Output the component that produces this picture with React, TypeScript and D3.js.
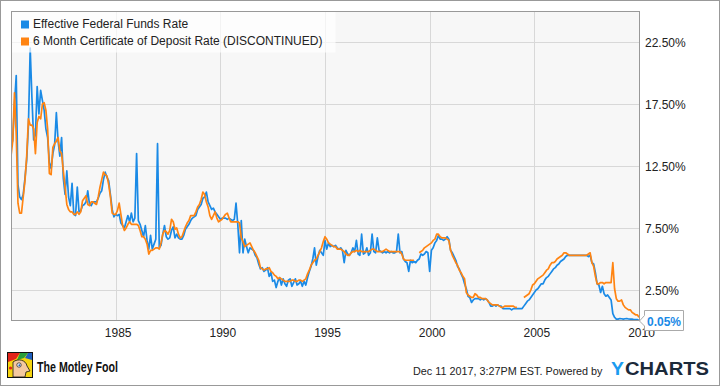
import React from "react";
import * as d3 from "d3";

// monthly values, Jan 1980 .. Jan 2010 (percent)
const START_YEAR = 1980;

const fedFundsRate: number[] = [
  14.0, 14.6, 17.5, 19.8, 11.0, 10.0, 9.8, 10.2, 11.5, 13.0, 15.8, 22.0, // 1980
  18.0, 14.6, 15.0, 18.9, 16.7, 18.6, 17.8, 17.0, 15.5, 14.8, 12.8, 12.3, // 1981
  13.5, 14.2, 16.8, 14.5, 13.3, 14.8, 11.5, 10.2, 12.1, 10.0, 9.3, 11.1, // 1982
  8.6, 8.5, 10.8, 8.8, 8.9, 9.3, 9.4, 9.6, 10.5, 9.4, 9.3, 9.6, // 1983
  9.6, 9.6, 9.9, 10.3, 10.5, 11.4, 12.0, 11.6, 11.3, 10.2, 9.0, 8.4, // 1984
  8.6, 8.5, 8.6, 7.9, 7.7, 7.5, 8.0, 8.5, 8.0, 8.7, 8.0, 8.3, // 1985
  13.5, 8.1, 7.8, 7.3, 6.8, 7.7, 6.5, 5.8, 6.9, 5.8, 6.2, 6.6, // 1986
  14.3, 5.9, 6.1, 7.0, 7.7, 6.8, 6.6, 6.7, 7.3, 7.6, 6.7, 7.0, // 1987
  6.7, 6.6, 6.6, 6.9, 7.4, 7.6, 7.8, 8.1, 8.3, 8.4, 8.5, 9.0, // 1988
  9.2, 9.4, 9.9, 10.0, 10.4, 9.6, 9.3, 9.0, 9.1, 8.8, 8.6, 8.4, // 1989
  8.2, 8.3, 8.3, 8.3, 8.2, 8.3, 8.2, 8.1, 8.2, 9.5, 7.8, 5.5, // 1990
  8.1, 5.5, 6.6, 6.0, 5.5, 5.9, 5.8, 5.7, 5.3, 5.1, 4.6, 4.2, // 1991
  4.3, 4.0, 4.1, 4.3, 3.6, 3.9, 3.2, 3.3, 2.7, 3.2, 3.5, 2.9, // 1992
  3.4, 3.0, 2.8, 3.3, 3.4, 2.8, 3.1, 3.4, 2.9, 3.0, 3.2, 2.8, // 1993
  3.2, 2.9, 3.5, 4.0, 4.4, 5.0, 5.9, 4.5, 5.2, 5.7, 5.5, 5.3, // 1994
  6.5, 5.8, 6.3, 6.0, 6.1, 6.0, 6.1, 5.9, 5.8, 5.9, 5.7, 4.7, // 1995
  5.7, 5.4, 5.3, 5.5, 5.9, 5.6, 6.5, 5.4, 5.3, 7.0, 5.4, 5.5, // 1996
  5.9, 5.3, 5.5, 7.0, 5.6, 5.5, 6.7, 5.7, 5.6, 5.5, 5.6, 5.5, // 1997
  5.6, 5.5, 5.6, 5.5, 5.5, 5.6, 7.0, 5.5, 5.6, 5.0, 4.8, 4.7, // 1998
  4.0, 4.9, 4.7, 4.8, 4.7, 4.9, 5.0, 5.4, 5.3, 5.4, 5.6, 5.5, // 1999
  4.0, 5.7, 5.9, 6.3, 6.5, 6.9, 6.6, 6.6, 6.5, 6.6, 6.8, 6.6, // 2000
  5.7, 5.5, 5.2, 4.9, 4.4, 4.2, 3.8, 3.5, 3.0, 2.6, 2.0, 1.9, // 2001
  1.5, 1.7, 1.8, 1.8, 1.8, 1.7, 1.8, 1.7, 1.8, 1.7, 1.5, 1.2, // 2002
  1.2, 1.3, 1.2, 1.3, 1.2, 1.2, 1.0, 1.0, 1.0, 1.0, 1.0, 0.9, // 2003
  1.0, 1.0, 1.0, 1.0, 1.0, 1.0, 1.2, 1.4, 1.6, 1.7, 1.9, 2.1, // 2004
  2.3, 2.5, 2.6, 2.8, 3.0, 3.0, 3.3, 3.5, 3.6, 3.8, 4.0, 4.2, // 2005
  4.3, 4.5, 4.6, 4.8, 4.9, 5.0, 5.2, 5.3, 5.3, 5.3, 5.3, 5.3, // 2006
  5.3, 5.3, 5.3, 5.3, 5.3, 5.3, 5.3, 5.2, 5.3, 4.7, 4.6, 3.9, // 2007
  3.0, 2.9, 2.3, 2.8, 2.2, 2.0, 2.1, 1.9, 1.7, 0.6, 0.3, 0.15, // 2008
  0.15, 0.2, 0.18, 0.15, 0.18, 0.2, 0.16, 0.15, 0.15, 0.12, 0.12, 0.12, // 2009
  0.05, // 2010
];

const cdRate: (number | null)[] = [
  13.3, 14.5, 18.4, 15.0, 9.5, 8.7, 8.7, 10.0, 11.3, 13.3, 16.3, 15.8, // 1980
  15.8, 15.5, 13.5, 16.0, 16.5, 16.3, 17.5, 17.6, 17.0, 15.5, 11.9, 11.8, // 1981
  14.0, 14.3, 14.5, 14.8, 13.7, 13.5, 12.1, 10.8, 9.4, 9.0, 8.8, 8.8, // 1982
  8.6, 8.6, 8.8, 8.6, 8.8, 9.7, 9.9, 10.1, 9.4, 9.3, 9.6, 9.6, // 1983
  9.5, 9.4, 10.0, 10.8, 11.4, 12.0, 11.8, 11.7, 11.0, 10.0, 8.7, 8.6, // 1984
  8.6, 8.9, 9.5, 8.6, 7.7, 7.3, 7.5, 7.8, 8.0, 7.8, 7.8, 7.8, // 1985
  7.8, 7.7, 7.3, 6.8, 6.8, 6.6, 6.2, 5.4, 5.7, 5.7, 5.8, 5.9, // 1986
  5.9, 5.8, 6.3, 7.0, 7.3, 7.2, 7.0, 7.3, 8.2, 8.0, 7.4, 7.5, // 1987
  7.0, 6.7, 6.8, 7.2, 7.6, 7.9, 8.1, 8.5, 8.5, 8.5, 8.8, 9.2, // 1988
  9.4, 9.8, 10.4, 10.2, 9.6, 9.2, 8.5, 8.2, 8.5, 8.8, 8.3, 8.0, // 1989
  8.1, 8.2, 8.4, 8.6, 8.7, 8.3, 8.0, 8.0, 8.0, 8.0, 8.0, 7.9, // 1990
  6.7, 6.4, 6.0, 6.1, 6.2, 6.3, 6.0, 5.7, 5.5, 5.2, 4.9, 4.3, // 1991
  4.2, 4.1, 4.2, 4.2, 4.3, 4.0, 3.9, 3.7, 3.6, 3.4, 3.5, 3.4, // 1992
  3.3, 3.2, 3.2, 3.2, 3.2, 3.3, 3.3, 3.2, 3.2, 3.3, 3.3, 3.2, // 1993
  3.3, 3.4, 3.8, 4.1, 4.5, 4.7, 4.9, 5.0, 5.3, 5.6, 5.9, 6.4, // 1994
  6.8, 6.6, 6.3, 6.2, 6.1, 6.0, 6.0, 5.8, 5.8, 5.8, 5.7, 5.6, // 1995
  5.4, 5.3, 5.3, 5.5, 5.6, 5.6, 5.7, 5.6, 5.7, 5.6, 5.6, 5.6, // 1996
  5.6, 5.6, 5.7, 5.8, 5.8, 5.7, 5.6, 5.6, 5.6, 5.6, 5.7, 5.8, // 1997
  5.7, 5.6, 5.6, 5.6, 5.6, 5.6, 5.6, 5.6, 5.4, 5.0, 4.9, 4.9, // 1998
  4.9, 4.9, 4.9, 4.9, null, null, 5.5, 5.6, 5.7, 5.9, 6.0, 6.1, // 1999
  6.2, 6.3, 6.5, 6.6, 7.0, 7.0, 6.8, 6.7, 6.7, 6.7, 6.6, 6.5, // 2000
  5.7, 5.3, 5.0, 4.7, 4.5, 4.1, 3.9, 3.6, 3.4, 2.3, 2.1, 2.0, // 2001
  1.9, 1.9, 2.2, 2.1, 1.9, 1.9, 1.8, 1.8, 1.8, 1.7, 1.5, 1.4, // 2002
  1.3, 1.3, 1.3, 1.3, 1.2, 1.1, 1.1, 1.2, 1.2, 1.2, 1.2, 1.2, // 2003
  1.2, 1.1, 1.1, null, null, null, 1.9, 2.0, 2.1, 2.2, 2.5, 2.9, // 2004
  3.0, 3.2, 3.4, 3.5, 3.6, 3.7, 3.9, 4.1, 4.2, 4.5, 4.7, 4.7, // 2005
  4.8, 5.0, 5.1, 5.2, 5.3, 5.5, 5.5, 5.4, 5.3, 5.3, 5.3, 5.3, // 2006
  5.3, 5.3, 5.3, 5.3, 5.3, 5.3, 5.3, 5.4, 5.5, 4.7, 4.4, 3.6, // 2007
  3.0, 3.0, 3.1, 3.1, 3.0, 3.1, 3.1, 3.1, 3.1, 4.7, 2.6, 1.8, // 2008
  1.6, 1.6, 1.7, 1.3, 1.1, 1.0, 0.9, 0.9, 0.7, 0.6, 0.5, 0.5, // 2009
  0.3, // 2010
];

const yTicks = [2.5, 7.5, 12.5, 17.5, 22.5];
const xTicks = [1985, 1990, 1995, 2000, 2005, 2010];
const seriesNames = [
  "Effective Federal Funds Rate",
  "6 Month Certificate of Deposit Rate (DISCONTINUED)",
];
const seriesColors = ["#1a8ae6", "#ff8412"];
const lastValueLabel = "0.05%";
const footerText = "Dec 11 2017, 3:27PM EST.  Powered by";

const W = 720;
const H = 386;
const plot = { left: 11, right: 639, top: 11, bottom: 320 };

const App: React.FC = () => {
  const x = d3.scaleLinear().domain([1980, 2010]).range([plot.left, plot.right]);
  const y = d3.scaleLinear().domain([0, 25]).range([321, 11]);

  const line = d3
    .line<number | null>()
    .defined((d) => d != null)
    .x((_d, i) => x(START_YEAR + i / 12))
    .y((d) => y(d as number));

  const fmt = d3.format(".2f");
  const font = "'Liberation Sans', Arial, sans-serif";

  return (
    <div style={{ position: "absolute", left: 0, top: 0 }}>
      <svg width={W} height={H} style={{ display: "block", fontFamily: font }}>
        <defs>
          <clipPath id="plotClip">
            <rect x={plot.left} y={plot.top} width={plot.right - plot.left} height={plot.bottom - plot.top} />
          </clipPath>
        </defs>
        <rect x={0} y={0} width={W} height={H} fill="#fff" />
        <rect
          x={plot.left}
          y={plot.top}
          width={plot.right - plot.left}
          height={plot.bottom - plot.top}
          fill="#f7f7f7"
        />

        {/* grid */}
        {yTicks.map((t) => (
          <line key={"gy" + t} x1={plot.left} x2={plot.right} y1={Math.round(y(t)) + 0.5} y2={Math.round(y(t)) + 0.5} stroke="#d8d8d8" />
        ))}
        {xTicks.slice(0, -1).map((t) => (
          <line key={"gx" + t} x1={Math.round(x(t)) + 0.5} x2={Math.round(x(t)) + 0.5} y1={plot.top} y2={plot.bottom} stroke="#d8d8d8" />
        ))}

        {/* series */}
        <g clipPath="url(#plotClip)" fill="none" strokeWidth={1.7} strokeLinejoin="round">
          <path d={line(fedFundsRate) ?? ""} stroke={seriesColors[0]} />
          <path d={line(cdRate) ?? ""} stroke={seriesColors[1]} />
        </g>

        {/* legend */}
        <rect x={plot.left + 0.5} y={plot.top + 0.5} width={324} height={41} fill="#fff" fillOpacity={0.7} />
        {seriesNames.map((name, i) => (
          <g key={name} transform={`translate(21,${20.5 + i * 17})`}>
            <rect width={8} height={8} fill={seriesColors[i]} />
            <text x={12} y={7.5} fontSize={12} fill="#222">
              {name}
            </text>
          </g>
        ))}

        {/* plot border */}
        <rect
          x={plot.left + 0.5}
          y={plot.top + 0.5}
          width={plot.right - plot.left}
          height={plot.bottom - plot.top}
          fill="none"
          stroke="#999"
        />

        {/* y axis labels */}
        {yTicks.map((t) => (
          <text key={"ly" + t} x={645} y={y(t) + 4.5} fontSize={12} fill="#222">
            {fmt(t)}%
          </text>
        ))}

        {/* x axis labels */}
        {xTicks.map((t) => (
          <text key={"lx" + t} x={x(t) + 2.5} y={337} fontSize={12} fill="#222" textAnchor="middle">
            {t}
          </text>
        ))}

        {/* last value callout */}
        <path
          d="M639.5,321 L644.5,315.5 L644.5,310.5 L683.5,310.5 L683.5,330.5 L644.5,330.5 L644.5,326 Z"
          fill="#fff"
          stroke="#aaa"
        />
        <text x={647} y={325.5} fontSize={12} fontWeight="bold" fill={seriesColors[0]}>
          {lastValueLabel}
        </text>

        {/* footer: Motley Fool logo */}
        <g>
          <rect x={7.5} y={352.5} width={25} height={25} fill="#f6d40f" stroke="#111" />
          <path d="M8,353 L20,353 L16,359 L8,362 Z" fill="#e2231a" />
          <path d="M20,353 L28,353 L24,358 L17,360 Z" fill="#2a9d3a" />
          <path d="M28,353 L32,353 L32,360 L25,358 Z" fill="#1f5fbf" />
          <path d="M13,362 C18,358 26,360 27,366 L30,371 L26,372 L25,377 L13,377 Z" fill="#f4c9a0" stroke="#111" strokeWidth={0.8} />
          <circle cx={19} cy={365} r={2.2} fill="#fff" stroke="#111" strokeWidth={0.7} />
          <circle cx={19.4} cy={365.2} r={1} fill="#1f5fbf" />
          <circle cx={10.5} cy={368} r={1.6} fill="#e2231a" />
          <text
            x={37}
            y={372}
            fontSize={14}
            fontWeight="bold"
            fill="#111"
            textLength={81}
            lengthAdjust="spacingAndGlyphs"
          >
            The Motley Fool
          </text>
        </g>

        {/* footer: timestamp + YCharts */}
        <text x={413} y={375} fontSize={10.8} fill="#222">
          {footerText}
        </text>
        <text x={611} y={374.5} fontSize={17.5} fontWeight="bold" fill="#1a9bf0" textLength={13} lengthAdjust="spacingAndGlyphs">
          Y
        </text>
        <text x={625} y={374.5} fontSize={17.5} fontWeight="bold" fill="#1b2a3a" textLength={84} lengthAdjust="spacingAndGlyphs">
          CHARTS
        </text>

        {/* outer frame */}
        <rect x={0.5} y={0.5} width={W - 1} height={H - 1} fill="none" stroke="#999" />
      </svg>
    </div>
  );
};

export default App;
